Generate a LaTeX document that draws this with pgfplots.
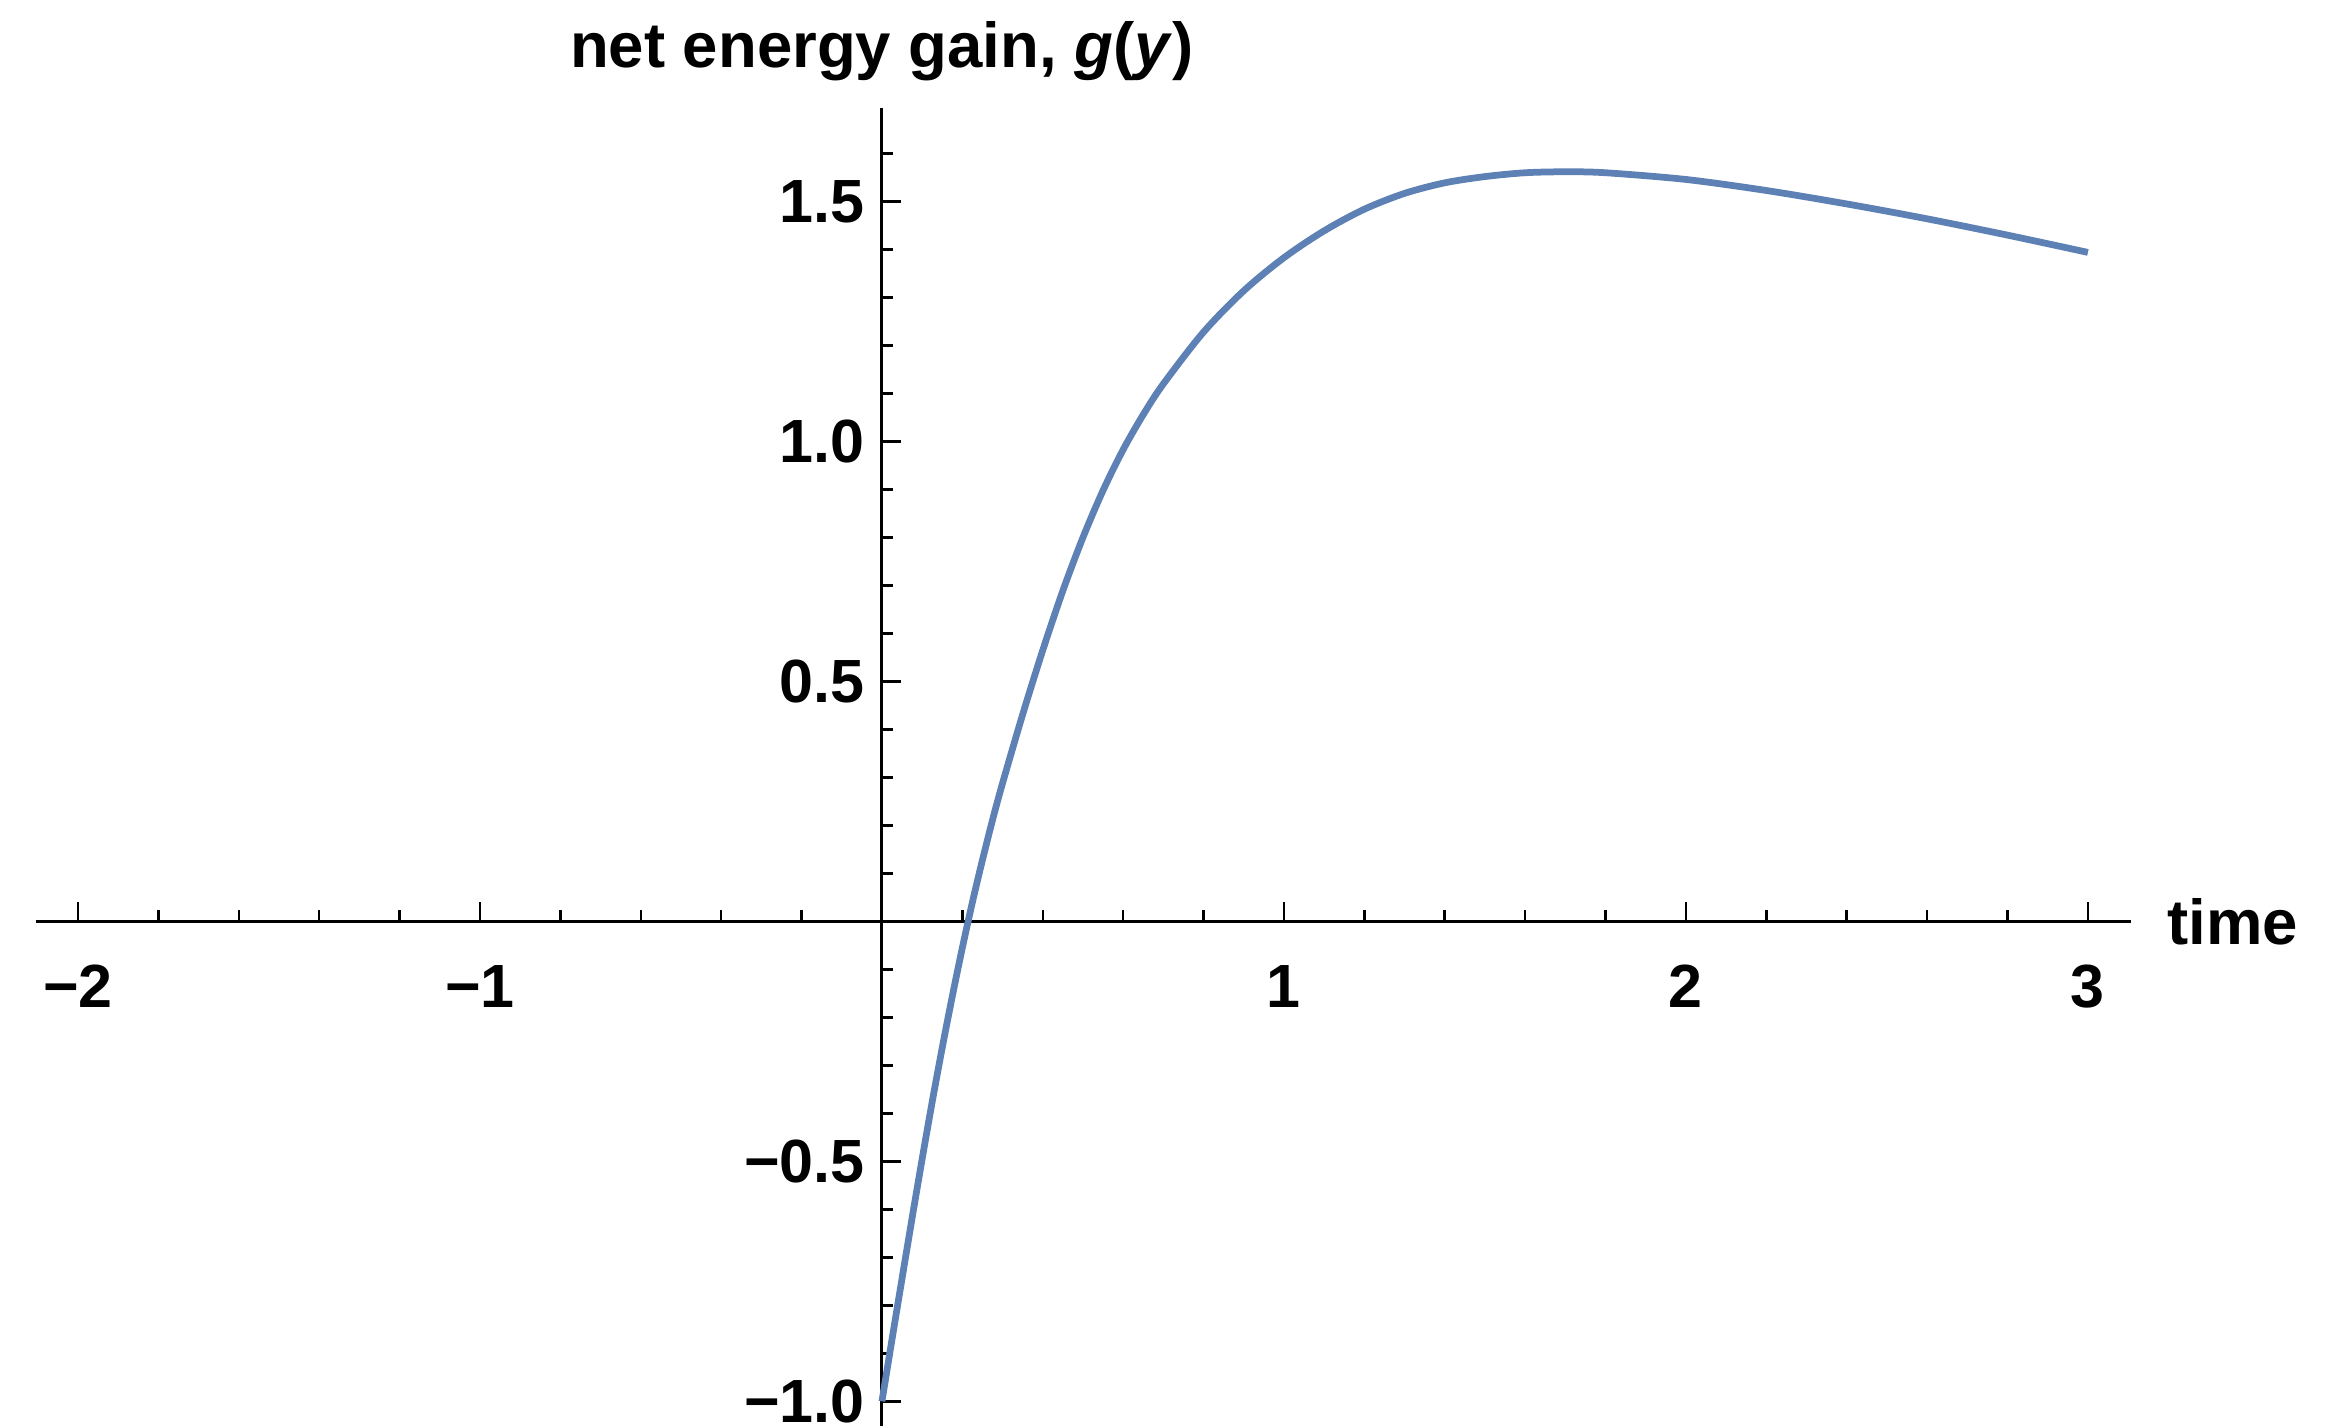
\documentclass[border=0pt]{standalone}
\usepackage{pgfplots}
\pgfplotsset{compat=1.18}
\usepackage{fontspec}
\setmainfont{Liberation Sans}

\definecolor{mmablue}{RGB}{94,129,181}

\begin{document}
\fontsize{12.2}{14}\selectfont\bfseries
\begin{tikzpicture}
\begin{axis}[
    scale only axis,
    width=419pt, height=263.5pt,
    axis lines=middle,
    axis line style={-, line width=0.6pt},
    xmin=-2.105, xmax=3.106,
    ymin=-1.051, ymax=1.694,
    xtick={-2,-1,1,2,3},
    xticklabels={−2,−1,1,2,3},
    minor xtick={-2,-1.8,-1.6,-1.4,-1.2,-1,-0.8,-0.6,-0.4,-0.2,0.2,0.4,0.6,0.8,1,1.2,1.4,1.6,1.8,2,2.2,2.4,2.6,2.8,3},
    ytick={-1,-0.5,0.5,1,1.5},
    yticklabels={−1.0,−0.5,0.5,1.0,1.5},
    minor ytick={-1,-0.9,-0.8,-0.7,-0.6,-0.5,-0.4,-0.3,-0.2,-0.1,0.1,0.2,0.3,0.4,0.5,0.6,0.7,0.8,0.9,1,1.1,1.2,1.3,1.4,1.5,1.6},
    tick align=inside,
    major tick length=3.8pt,
    minor tick length=2.3pt,
    tick style={line width=0.5pt, black},
    xticklabel style={anchor=base, inner sep=0pt, yshift=-17.3pt},
    yticklabel style={anchor=east, inner sep=0pt, xshift=-3.3pt},
    every axis x label/.style={at={(axis description cs:1,0.38288)}, anchor=west, inner sep=0pt, xshift=7.2pt, font=\fontsize{12.7}{14}\selectfont\bfseries},
    every axis y label/.style={at={(axis description cs:0.40395,1)}, anchor=base, inner sep=0pt, yshift=8.2pt, font=\fontsize{12.7}{14}\selectfont\bfseries},
    xlabel={time},
    ylabel={net energy gain, \textit{g}(\textit{y})},
]
% g(y)
\addplot [mmablue, line width=1.35pt, smooth] coordinates {
    (0,-1.0) (0.025,-0.871) (0.05,-0.744) (0.075,-0.618) (0.1,-0.495)
    (0.125,-0.376) (0.15,-0.263) (0.175,-0.156) (0.2,-0.055)
    (0.225,0.040) (0.25,0.128) (0.275,0.211) (0.3,0.288)
    (0.35,0.431) (0.4,0.565) (0.45,0.689) (0.5,0.800)
    (0.55,0.898) (0.6,0.983) (0.65,1.056) (0.7,1.120)
    (0.8,1.228) (0.9,1.314) (1.0,1.383) (1.1,1.439) (1.2,1.484)
    (1.3,1.517) (1.4,1.539) (1.5,1.552) (1.6,1.560) (1.7,1.562)
    (1.8,1.560) (2.0,1.546) (2.2,1.523) (2.4,1.495) (2.6,1.464)
    (2.8,1.430) (3.0,1.394)
};
\coordinate (bbSW) at (axis cs:-2.194,-1.051);
\coordinate (bbNE) at (axis cs:3.652,1.920);
\end{axis}
\pgfresetboundingbox
\path (bbSW) rectangle (bbNE);
\end{tikzpicture}
\end{document}
